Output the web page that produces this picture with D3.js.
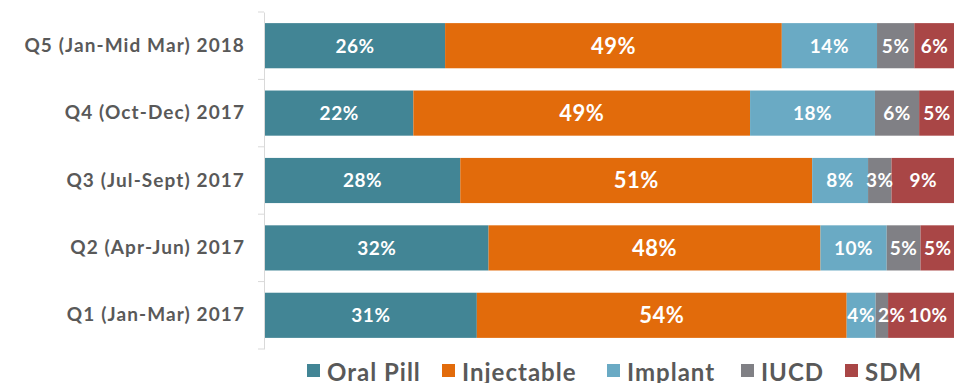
<!DOCTYPE html>
<html>
<head>
<meta charset="utf-8">
<script src="https://cdn.jsdelivr.net/npm/d3@7"></script>
<style>
  body { margin: 0; background: #fff; }
  text { font-family: "Lato", "DejaVu Sans", sans-serif; font-weight: bold; }
</style>
</head>
<body>
<script>
const w = 954;
const h = 383;

// data
const quarters = ["Q5 (Jan-Mid Mar) 2018", "Q4 (Oct-Dec) 2017", "Q3 (Jul-Sept) 2017", "Q2 (Apr-Jun) 2017", "Q1 (Jan-Mar) 2017"];
const methods = ["Oral Pill", "Injectable", "Implant", "IUCD", "SDM"];
const oralPill   = [26.1, 21.5, 28.3, 32.4, 30.7];
const injectable = [48.8, 48.8, 51.0, 48.1, 53.6];
const implant    = [13.8, 18.1, 8.1, 9.6, 4.2];
const iucd       = [5.4, 6.4, 3.4, 4.9, 1.8];
const sdm        = [5.9, 5.2, 9.2, 5.0, 9.7];
const colors = ["#428595", "#E26B0B", "#6AAAC4", "#808085", "#A94646"];

const rows = quarters.map((q, i) => ({
    quarter: q,
    "Oral Pill": oralPill[i],
    "Injectable": injectable[i],
    "Implant": implant[i],
    "IUCD": iucd[i],
    "SDM": sdm[i]
}));

const stacked = d3.stack().keys(methods)(rows);

const plotLeft = 265;
const plotTop = 12;
const plotBottom = 349;

const xScale = d3.scaleLinear()
                .domain([0, 100])
                .range([plotLeft, plotLeft + 690]);

const yScale = d3.scaleBand()
                .domain(quarters)
                .range([plotTop, plotBottom])
                .paddingInner(0.33)
                .paddingOuter(0.165);

const color = d3.scaleOrdinal().domain(methods).range(colors);

const svg = d3.select("body")
                .append("svg")
                .attr("width", w)
                .attr("height", h);

// bars
const layers = svg.append("g")
    .selectAll("g")
    .data(stacked)
    .enter()
    .append("g")
    .attr("fill", d => color(d.key));

layers.selectAll("rect")
    .data(d => d)
    .enter()
    .append("rect")
        .attr("x", d => xScale(d[0]))
        .attr("y", d => yScale(d.data.quarter))
        .attr("width", d => xScale(d[1]) - xScale(d[0]))
        .attr("height", yScale.bandwidth());

// value labels
const labelG = svg.append("g");
quarters.forEach((q, i) => {
    let prevRight = -Infinity;
    stacked.forEach(layer => {
        const d = layer[i];
        const t = labelG.append("text")
            .attr("y", yScale(q) + yScale.bandwidth() / 2)
            .attr("dy", "0.36em")
            .attr("text-anchor", "middle")
            .attr("fill", "#fff")
            .style("font-size", layer.key === "Injectable" ? "22px" : "19px")
            .style("letter-spacing", "0.5px")
            .text(Math.round(d[1] - d[0]) + "%");
        const tw = t.node().getComputedTextLength();
        let cx = (xScale(d[0]) + xScale(d[1])) / 2;
        // nudge right if it would run into the previous label
        if (cx - tw / 2 < prevRight + 3) cx = prevRight + 3 + tw / 2;
        t.attr("x", cx);
        prevRight = cx + tw / 2;
    });
});

// category axis
const yAxis = d3.axisLeft(yScale).tickSize(0).tickPadding(19);
const axisG = svg.append("g")
    .attr("transform", `translate(${plotLeft - 1}, 0)`)
    .call(yAxis);
axisG.select(".domain").attr("stroke", "#d9d9d9");
axisG.selectAll(".tick text")
    .attr("fill", "#595959")
    .style("font-size", "19px")
    .style("letter-spacing", "1.1px")
    .style("font-family", "Lato, sans-serif");

// tick marks between categories
axisG.selectAll("line.sep")
    .data(d3.range(quarters.length + 1))
    .enter()
    .append("line")
        .attr("class", "sep")
        .attr("x1", -6)
        .attr("x2", 0)
        .attr("y1", i => plotTop + i * (plotBottom - plotTop) / quarters.length)
        .attr("y2", i => plotTop + i * (plotBottom - plotTop) / quarters.length)
        .attr("stroke", "#d9d9d9");

// legend
const legendX = [307, 442, 607, 741, 845];
const legend = svg.append("g").attr("transform", "translate(0, 381)");
methods.forEach((m, i) => {
    const g = legend.append("g").attr("transform", `translate(${legendX[i]}, 0)`);
    g.append("rect")
        .attr("x", 0)
        .attr("y", -17)
        .attr("width", 13)
        .attr("height", 13)
        .attr("fill", color(m));
    g.append("text")
        .attr("x", 20)
        .attr("y", 0)
        .attr("fill", "#595959")
        .style("font-size", "24px")
        .style("letter-spacing", "1px")
        .text(m);
});
</script>
</body>
</html>
